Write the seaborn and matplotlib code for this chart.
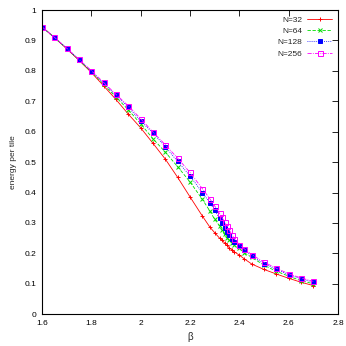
import matplotlib
matplotlib.use("Agg")
import matplotlib.pyplot as plt
import seaborn as sns
import pandas as pd
from matplotlib.ticker import FuncFormatter

beta = [1.6, 1.65, 1.7, 1.75, 1.8, 1.85, 1.9, 1.95, 2.0, 2.05, 2.1, 2.15, 2.2, 2.25,
        2.28, 2.3, 2.32, 2.33, 2.34, 2.35, 2.36, 2.37, 2.38, 2.4, 2.42, 2.45, 2.5,
        2.55, 2.6, 2.65, 2.7]

e32 = [0.945, 0.910, 0.873, 0.835, 0.795, 0.751, 0.706, 0.658, 0.613, 0.562, 0.510,
       0.450, 0.386, 0.323, 0.287, 0.268, 0.250, 0.244, 0.234, 0.226, 0.218, 0.211,
       0.205, 0.194, 0.182, 0.165, 0.147, 0.132, 0.118, 0.105, 0.094]
e64 = [0.945, 0.910, 0.874, 0.836, 0.797, 0.756, 0.714, 0.672, 0.626, 0.577, 0.533,
       0.485, 0.435, 0.378, 0.340, 0.312, 0.290, 0.276, 0.262, 0.251, 0.243, 0.235,
       0.227, 0.216, 0.202, 0.187, 0.161, 0.141, 0.125, 0.110, 0.100]
e128 = [0.945, 0.910, 0.875, 0.837, 0.799, 0.760, 0.720, 0.681, 0.635, 0.596, 0.551,
        0.502, 0.455, 0.400, 0.367, 0.342, 0.315, 0.301, 0.284, 0.271, 0.259, 0.248,
        0.238, 0.224, 0.211, 0.191, 0.166, 0.147, 0.130, 0.116, 0.105]
e256 = [0.945, 0.911, 0.875, 0.838, 0.801, 0.762, 0.723, 0.685, 0.643, 0.599, 0.557,
        0.513, 0.466, 0.413, 0.380, 0.356, 0.331, 0.318, 0.304, 0.290, 0.276, 0.261,
        0.248, 0.229, 0.215, 0.196, 0.171, 0.151, 0.133, 0.119, 0.108]

labels = ["N=32", "N=64", "N=128", "N=256"]
series = [e32, e64, e128, e256]

xticks = [1.6, 1.8, 2.0, 2.2, 2.4, 2.6, 2.8]
yticks = [0, 0.1, 0.2, 0.3, 0.4, 0.5, 0.6, 0.7, 0.8, 0.9, 1.0]

sns.set_style("white")
plt.rcParams["font.family"] = ["Liberation Sans", "DejaVu Sans"]

fig = plt.figure(figsize=(3.46, 3.46), dpi=100)
ax = fig.add_axes([0.121, 0.092, 0.856, 0.879])

styles = [
    dict(color="#ff0000", marker="+", linestyle="-", ms=3.5, mfc="none"),
    dict(color="#00dd00", marker="x", linestyle=(0, (4, 2)), ms=3, mfc="none"),
    dict(color="#0000ff", marker="s", linestyle=(0, (1, 1.5)), ms=2.5, mfc="#0000ff"),
    dict(color="#ff00ff", marker="s", linestyle=(0, (5, 1.5, 1, 1.5)), ms=3.6, mfc="none"),
]

for lab, vals, st in zip(labels, series, styles):
    df = pd.DataFrame({"beta": beta, "energy": vals})
    sns.lineplot(data=df, x="beta", y="energy", ax=ax, label=lab,
                 color=st["color"], marker=st["marker"], linestyle=st["linestyle"],
                 markersize=st["ms"], markerfacecolor=st["mfc"],
                 markeredgecolor=st["color"], markeredgewidth=0.7, linewidth=0.6)

ax.set_xlim(1.6, 2.8)
ax.set_ylim(0, 1)
ax.set_xticks(xticks)
ax.set_yticks(yticks)
fmt = FuncFormatter(lambda v, p: ("%g" % round(v, 2)))
ax.xaxis.set_major_formatter(fmt)
ax.yaxis.set_major_formatter(fmt)
ax.tick_params(direction="in", length=4, width=0.6, top=True, right=True,
               labelsize=6, pad=4, colors="black")
for s in ax.spines.values():
    s.set_linewidth(0.8)
    s.set_color("black")
ax.set_xlabel("β", fontsize=7, labelpad=4)
ax.set_ylabel("energy per tile", fontsize=6, labelpad=5)

leg = ax.legend(loc="upper right", frameon=False, markerfirst=False, fontsize=6,
                handlelength=3.0, labelspacing=0.42, borderaxespad=0.3,
                handletextpad=0.6, alignment="right")
for t in leg.get_texts():
    t.set_ha("right")

fig.savefig("out.png", dpi=100)
